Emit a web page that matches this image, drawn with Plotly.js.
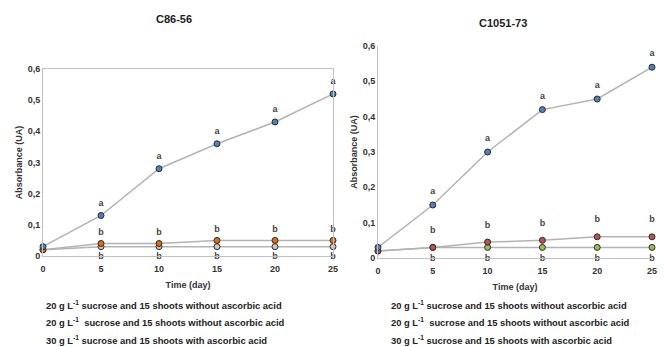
<!DOCTYPE html>
<html>
<head>
<meta charset="utf-8">
<script src="https://cdn.plot.ly/plotly-3.0.1.min.js"></script>
<style>html,body{margin:0;padding:0;background:#fff;}#chart{width:667px;height:347px;}</style>
</head>
<body>
<div id="chart"></div>
<script>
// ---- data ----
const days = [0, 5, 10, 15, 20, 25];
const xTicks = [0, 5, 10, 15, 20, 25];
const yTicks = [0, 0.1, 0.2, 0.3, 0.4, 0.5, 0.6];

const chartTitles = ['C86-56', 'C1051-73'];
const legendNames = [
  '20 g L<sup>-1</sup> sucrose and 15 shoots without ascorbic acid',
  '20 g L<sup>-1</sup>  sucrose and 15 shoots without ascorbic acid',
  '30 g L<sup>-1</sup> sucrose and 15 shoots with ascorbic acid'
];

// C86-56
const leftBlue   = [0.03, 0.13, 0.28, 0.36, 0.43, 0.52];
const leftOrange = [0.02, 0.04, 0.04, 0.05, 0.05, 0.05];
const leftGrey   = [0.02, 0.03, 0.03, 0.03, 0.03, 0.03];
// C1051-73
const rightBlue  = [0.03, 0.15, 0.30, 0.42, 0.45, 0.54];
const rightRed   = [0.02, 0.03, 0.045, 0.05, 0.06, 0.06];
const rightGreen = [0.02, 0.03, 0.03, 0.03, 0.03, 0.03];

// significance letters for days 5..25
const lettersA = ['a', 'a', 'a', 'a', 'a'];
const lettersB = ['b', 'b', 'b', 'b', 'b'];

// ---- style ----
const W = 667, H = 347;
const FONT = 'Liberation Sans Narrow, Arial Narrow, Liberation Sans, Arial, sans-serif';
const lineCol = '#b3b3b3';
const px = v => v / W;
const py = v => 1 - v / H;

function series(x, y, xa, ya, fill) {
  return {
    x: x, y: y, xaxis: xa, yaxis: ya, type: 'scatter',
    mode: 'lines+markers',
    line: {color: lineCol, width: 1.5},
    marker: {color: fill, size: 6, line: {color: '#2b2b2b', width: 1}},
    cliponaxis: false, showlegend: false, hoverinfo: 'skip'
  };
}
function letters(x, y, xa, ya, txt, pos, msize) {
  return {
    x: x.slice(1), y: y.slice(1), xaxis: xa, yaxis: ya, type: 'scatter',
    mode: 'markers+text', text: txt, textposition: pos,
    marker: {size: msize, color: 'rgba(0,0,0,0)'},
    textfont: {family: FONT, size: 9, color: '#444', weight: 'bold'},
    cliponaxis: false, showlegend: false, hoverinfo: 'skip'
  };
}

const traces = [
  series(days, leftGrey, 'x', 'y', '#c8c8c8'),
  series(days, leftOrange, 'x', 'y', '#e46c0a'),
  series(days, leftBlue, 'x', 'y', '#4f81bd'),
  series(days, rightGreen, 'x2', 'y2', '#9bbb59'),
  series(days, rightRed, 'x2', 'y2', '#c0504d'),
  series(days, rightBlue, 'x2', 'y2', '#4f81bd'),
  letters(days, leftGrey, 'x', 'y', lettersB, 'bottom center', 8),
  letters(days, leftOrange, 'x', 'y', lettersB, 'top center', 8),
  letters(days, leftBlue, 'x', 'y', lettersA, 'top center', 10),
  letters(days, rightGreen, 'x2', 'y2', lettersB, 'bottom center', 10),
  letters(days, rightRed, 'x2', 'y2', lettersB, 'top center', 18),
  letters(days, rightBlue, 'x2', 'y2', lettersA, 'top center', 12)
];

const tickFont = {family: FONT, size: 9, color: '#333', weight: 'bold'};
const titleFont = {family: FONT, size: 9, color: '#333', weight: 'bold'};

function xAxis(domain, anchor, mirror) {
  return {
    domain: domain, anchor: anchor, range: [0, 25],
    tickvals: xTicks, ticks: '', showgrid: false, zeroline: false,
    showline: true, linecolor: '#c0c0c0', linewidth: 1, mirror: mirror,
    tickfont: tickFont, ticklabelstandoff: 4,
    title: {text: 'Time (day)', font: titleFont, standoff: 8}
  };
}
function yAxis(domain, anchor, mirror) {
  return {
    domain: domain, anchor: anchor, range: [0, 0.6],
    tickvals: yTicks, ticks: '', showgrid: false, zeroline: false,
    showline: true, linecolor: '#c0c0c0', linewidth: 1, mirror: mirror,
    tickfont: tickFont,
    title: {text: 'Absorbance (UA)', font: titleFont, standoff: 3}
  };
}

const annotations = [];
annotations.push({xref: 'paper', yref: 'paper', x: px(174), y: py(19), text: '<b>' + chartTitles[0] + '</b>',
  showarrow: false, xanchor: 'center', yanchor: 'middle', font: {family: FONT, size: 11, color: '#222'}});
annotations.push({xref: 'paper', yref: 'paper', x: px(503), y: py(23), text: '<b>' + chartTitles[1] + '</b>',
  showarrow: false, xanchor: 'center', yanchor: 'middle', font: {family: FONT, size: 11, color: '#222'}});
const legY = [305, 322, 340];
[44, 389].forEach(lx => {
  legendNames.forEach((t, i) => {
    annotations.push({xref: 'paper', yref: 'paper', x: px(lx), y: py(legY[i]), text: '<b>' + t + '</b>',
      showarrow: false, xanchor: 'left', yanchor: 'middle', font: {family: FONT, size: 9.4, color: '#222'}});
  });
});

const layout = {
  width: W, height: H,
  margin: {l: 0, r: 0, t: 0, b: 0},
  paper_bgcolor: '#fff', plot_bgcolor: '#fff',
  separators: ', ',
  showlegend: false,
  xaxis: xAxis([px(43), px(333)], 'y', true),
  yaxis: yAxis([py(256), py(69)], 'x', true),
  xaxis2: xAxis([px(378), px(652)], 'y2', false),
  yaxis2: yAxis([py(258), py(46)], 'x2', false),
  annotations: annotations
};

Plotly.newPlot('chart', traces, layout, {displayModeBar: false, staticPlot: true});
</script>
</body>
</html>
